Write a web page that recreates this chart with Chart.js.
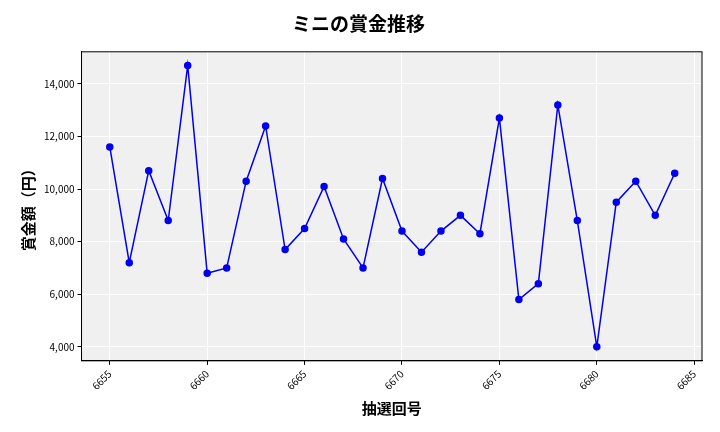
<!DOCTYPE html>
<html lang="ja">
<head>
<meta charset="UTF-8">
<script src="https://cdn.jsdelivr.net/npm/chart.js@4.4.0/dist/chart.umd.min.js"></script>
<style>
  body { margin: 0; background: #fff; }
  #wrap { width: 720px; height: 432px; }
</style>
</head>
<body>
<div id="wrap"><canvas id="c" width="720" height="432"></canvas></div>
<script>
const draws = [6655,6656,6657,6658,6659,6660,6661,6662,6663,6664,6665,6666,6667,6668,6669,
  6670,6671,6672,6673,6674,6675,6676,6677,6678,6679,6680,6681,6682,6683,6684];
const prizes = [11600,7200,10700,8800,14700,6800,7000,10300,12400,7700,8500,10100,8100,7000,10400,
  8400,7600,8400,9000,8300,12700,5800,6400,13200,8800,4000,9500,10300,9000,10600];
const xTicks = [6655,6660,6665,6670,6675,6680,6685];
const yTicks = [4000,6000,8000,10000,12000,14000];

const FONT = '"Noto Sans CJK JP", "Noto Sans", sans-serif';

const plotBg = {
  id: 'plotBg',
  beforeDraw(chart) {
    const a = chart.chartArea, ctx = chart.ctx;
    ctx.save();
    ctx.fillStyle = '#f0f0f0';
    ctx.fillRect(a.left, a.top, a.right - a.left, a.bottom - a.top);
    ctx.restore();
  },
  afterDraw(chart) {
    const a = chart.chartArea, ctx = chart.ctx;
    ctx.save();
    ctx.strokeStyle = '#000';
    ctx.lineWidth = 1;
    ctx.strokeRect(a.left, a.top, a.right - a.left, a.bottom - a.top);
    ctx.restore();
  }
};

new Chart(document.getElementById('c'), {
  type: 'line',
  data: {
    datasets: [{
      data: draws.map((d, i) => ({ x: d, y: prizes[i] })),
      borderColor: '#0000ee',
      backgroundColor: '#0000ee',
      borderWidth: 1.5,
      pointRadius: 3,
      tension: 0
    }]
  },
  options: {
    responsive: false,
    animation: false,
    layout: { padding: { left: 15, right: 18, top: 8, bottom: 11 } },
    plugins: {
      legend: { display: false },
      tooltip: { enabled: false },
      title: {
        display: true, text: 'ミニの賞金推移', color: '#000',
        font: { family: FONT, size: 19, weight: 'bold' },
        padding: { top: 4, bottom: 17 }
      }
    },
    scales: {
      x: {
        type: 'linear', min: 6653.55, max: 6685.4,
        afterBuildTicks(axis) { axis.ticks = xTicks.map(v => ({ value: v })); },
        ticks: { color: '#000', font: { family: FONT, size: 10 }, maxRotation: 45, minRotation: 45,
          callback: v => String(v) },
        grid: { color: '#ffffff', lineWidth: 1, drawTicks: true, tickColor: '#000', tickLength: 4 },
        border: { color: '#000' },
        title: { display: true, text: '抽選回号', color: '#000', font: { family: FONT, size: 15, weight: 'bold' } }
      },
      y: {
        min: 3466, max: 15221,
        afterBuildTicks(axis) { axis.ticks = yTicks.map(v => ({ value: v })); },
        ticks: { color: '#000', font: { family: FONT, size: 10 },
          callback: v => v.toLocaleString('en-US') },
        grid: { color: '#ffffff', lineWidth: 1, tickColor: '#000', tickLength: 4 },
        border: { color: '#000' },
        title: { display: true, text: '賞金額（円）', color: '#000', font: { family: FONT, size: 15, weight: 'bold' } }
      }
    }
  },
  plugins: [plotBg]
});
</script>
</body>
</html>
